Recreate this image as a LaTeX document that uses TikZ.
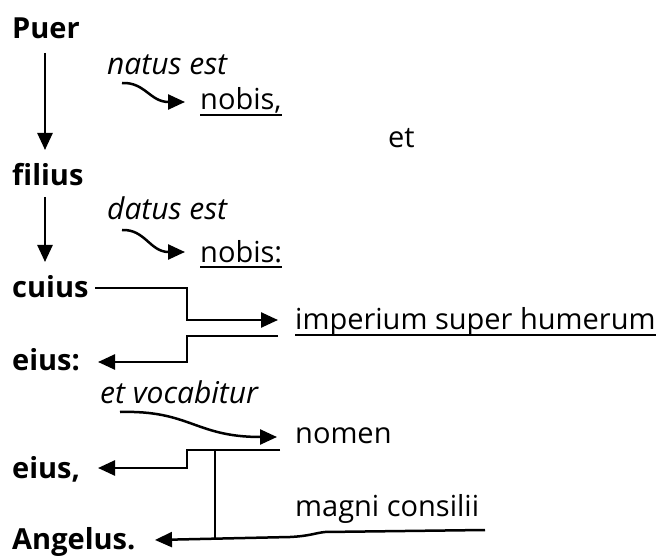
\documentclass[tikz,border=0pt]{standalone}
\usepackage{fontspec}
\setmainfont{Open Sans}
\usetikzlibrary{arrows.meta}
\begin{document}
\begin{tikzpicture}[x=1pt,y=-1pt,
  base/.style={anchor=base west, inner sep=0pt},
  lbl/.style={base, font=\fontsize{29}{34}\selectfont\bfseries},
  txt/.style={base, font=\fontsize{29}{35}\selectfont},
  itx/.style={base, font=\fontsize{30}{36}\selectfont\itshape},
  ln/.style={line width=2.5pt},
  arr/.style={ln, -{Triangle[length=17pt,width=15pt]}},
  ul/.style={line width=2.2pt}]
\useasboundingbox (0,0) rectangle (667,556);
% texts
\node[lbl] (puer) at (12,39) {Puer};
\node[itx] (natus) at (107,75) {natus est};
\node[txt] (nobisA) at (200,110) {nobis,};
\node[txt] (et) at (388,148) {et};
\node[lbl] (filius) at (12,186) {filius};
\node[itx] (datus) at (107,220) {datus est};
\node[txt] (nobisB) at (200,262) {nobis:};
\node[lbl] (cuius) at (12,298) {cuius};
\node[txt] (imp) at (295,330) {imperium super humerum};
\node[lbl] (eiusA) at (12,370) {eius:};
\node[itx] (etvoc) at (100,403) {et vocabitur};
\node[txt] (nomen) at (295,443) {nomen};
\node[lbl] (eiusB) at (12,478) {eius,};
\node[txt] (magni) at (295,516) {magni consilii};
\node[lbl] (angelus) at (12,549) {Angelus.};
% underlines
\foreach \n in {nobisA,nobisB,imp}
  \draw[ul] ([yshift=-5pt]\n.base west) -- ([yshift=-5pt]\n.base east);
% ports
\coordinate (puerS) at (45,53);
\coordinate (filiusN) at (45,150);
\coordinate (filiusS) at (45,197);
\coordinate (cuiusN) at (45,262);
\coordinate (natusS) at (122,83);
\coordinate (nobisAW) at (185,102);
\coordinate (datusS) at (122,230);
\coordinate (nobisBW) at (185,252);
\coordinate (cuiusE) at (95,288);
\coordinate (impW) at (278,320);
\coordinate (impS) at (278,336);
\coordinate (eiusAE) at (98,362);
\coordinate (etvocS) at (120,412);
\coordinate (nomenW) at (277,437);
\coordinate (nomenS) at (280,450);
\coordinate (eiusBE) at (98,468);
\coordinate (magniS) at (485,530);
\coordinate (angelusE) at (155,540);
% connectors
\draw[arr] (puerS) -- (filiusN);
\draw[arr] (filiusS) -- (cuiusN);
\draw[arr] (natusS) .. controls (145,82) and (150,102) .. (nobisAW);
\draw[arr] (datusS) .. controls (145,229) and (150,252) .. (nobisBW);
\draw[arr] (cuiusE) -- (187,288) -- (187,320) -- (impW);
\draw[arr] (impS) -- (187,336) -- (187,362) -- (eiusAE);
\draw[arr] (etvocS) .. controls (190,410) and (195,437) .. (nomenW);
\draw[arr] (nomenS) -- (187,450) -- (187,468) -- (eiusBE);
\draw[ln] (215,450) -- (215,538);
\draw[arr] (magniS) -- (325,532) .. controls (315,533) and (310,536) .. (290,537) -- (angelusE);
\end{tikzpicture}
\end{document}
